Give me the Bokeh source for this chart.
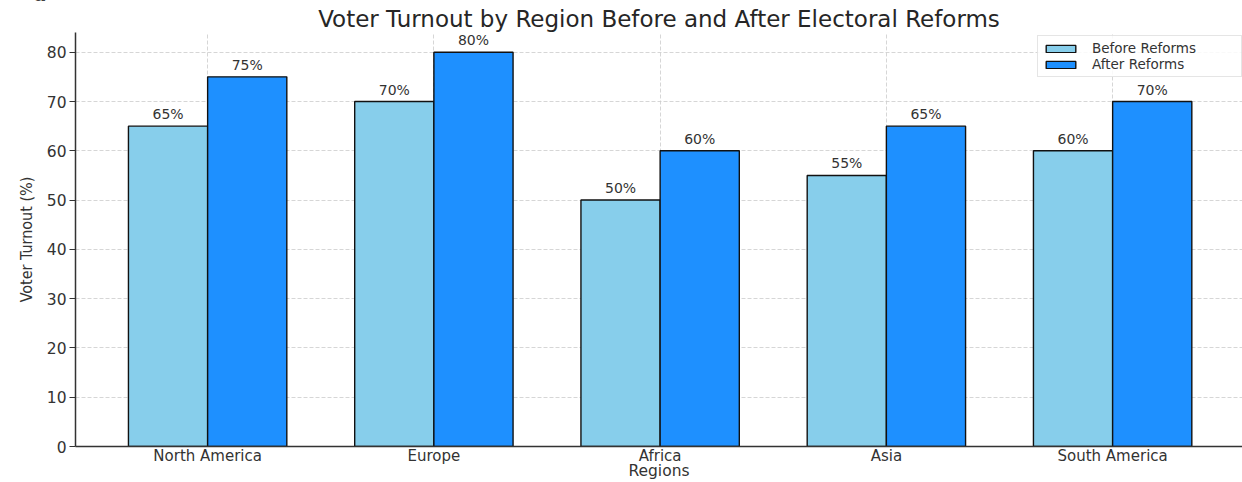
from bokeh.plotting import figure
from bokeh.layouts import column
from bokeh.models import (ColumnDataSource, FixedTicker, Legend, LegendItem,
                          LabelSet, Div)
from bokeh.core.properties import value
from bokeh.embed import file_html
from bokeh.resources import INLINE

# Turnout data (%)
regions = ["North America", "Europe", "Africa", "Asia", "South America"]
before_reforms = [65, 70, 50, 55, 60]
after_reforms = [75, 80, 60, 65, 70]
y_ticks = [0, 10, 20, 30, 40, 50, 60, 70, 80]

bar_w = 0.35
idx = list(range(len(regions)))

src_before = ColumnDataSource(dict(
    x=[i - bar_w / 2 for i in idx], top=before_reforms,
    txt=[f"{v}%" for v in before_reforms]))
src_after = ColumnDataSource(dict(
    x=[i + bar_w / 2 for i in idx], top=after_reforms,
    txt=[f"{v}%" for v in after_reforms]))

FONT = "DejaVu Sans"
TXT = "#333333"

p = figure(width=1242, height=482, output_backend="svg", toolbar_location=None,
           x_range=(-0.584, 4.574), y_range=(0, 84),
           min_border_left=75, min_border_right=0,
           min_border_top=32, min_border_bottom=36)

p.title.text = "Voter Turnout by Region Before and After Electoral Reforms"
p.title.align = "center"
p.title.text_font = FONT
p.title.text_font_size = "23px"
p.title.text_font_style = "normal"
p.title.text_color = "#262626"
p.title.standoff = 2

p.outline_line_color = None

r_before = p.vbar(x="x", top="top", width=bar_w, source=src_before,
                  fill_color="#87CEEB", line_color="#111111", line_width=1.4)
r_after = p.vbar(x="x", top="top", width=bar_w, source=src_after,
                 fill_color="#1E90FF", line_color="#111111", line_width=1.4)

for src in (src_before, src_after):
    p.add_layout(LabelSet(x="x", y="top", text="txt", source=src,
                          text_align="center", text_baseline="alphabetic",
                          y_offset=7, text_font=value(FONT),
                          text_font_size=value("14px"), text_color=TXT))

# Axes
p.xaxis.ticker = FixedTicker(ticks=idx)
p.xaxis.major_label_overrides = {i: r for i, r in enumerate(regions)}
p.xaxis.major_tick_out = 0
p.xaxis.major_tick_in = 0
p.xaxis.minor_tick_line_color = None
p.xaxis.axis_label = "Regions"
p.yaxis.ticker = FixedTicker(ticks=y_ticks)
p.yaxis.major_tick_out = 6
p.yaxis.major_tick_in = 0
p.yaxis.minor_tick_line_color = None
p.yaxis.axis_label = "Voter Turnout (%)"

for ax in (p.xaxis, p.yaxis):
    ax.axis_line_color = "#333333"
    ax.axis_line_width = 1.5
    ax.major_tick_line_color = "#333333"
    ax.major_tick_line_width = 1.2
    ax.major_label_text_font = FONT
    ax.major_label_text_color = TXT
    ax.axis_label_text_font_style = "normal"
    ax.axis_label_text_color = TXT

p.xaxis.major_label_text_font_size = "15px"
p.xaxis.major_label_standoff = 0
p.xaxis.axis_label_standoff = -6
p.xaxis.axis_label_text_font = FONT
p.xaxis.axis_label_text_font_size = "15.5px"
p.yaxis.major_label_text_font_size = "15.5px"
p.yaxis.major_label_standoff = 3
p.yaxis.axis_label_standoff = 8
p.yaxis.axis_label_text_font = "DejaVu Sans Condensed"
p.yaxis.axis_label_text_font_size = "16px"

# Grid
for g in (p.xgrid, p.ygrid):
    g.grid_line_color = "#cccccc"
    g.grid_line_dash = "4 2"
    g.grid_line_width = 0.8
p.xgrid.ticker = FixedTicker(ticks=idx)
p.ygrid.ticker = FixedTicker(ticks=y_ticks)

# Legend
legend = Legend(items=[LegendItem(label="Before Reforms", renderers=[r_before]),
                       LegendItem(label="After Reforms", renderers=[r_after])],
                location=(962, 369), orientation="vertical",
                label_text_font=FONT, label_text_font_size="13.5px",
                label_text_color=TXT, label_height=13, label_width=145,
                label_standoff=13, glyph_width=37, glyph_height=9,
                spacing=0, padding=4, margin=0,
                border_line_color="#cccccc", border_line_width=1,
                background_fill_alpha=0.85)
p.add_layout(legend)

# Tail of the figure caption peeking in at the top edge
caption = Div(
    text=("<div style=\"position:absolute;left:33px;top:-16px;"
          "font-family:'DejaVu Serif';font-weight:bold;font-size:20px;"
          "line-height:20px;color:#000;\">g</div>"),
    width=1242, height=0, margin=0, styles={"overflow": "visible"})

layout = column(caption, p, spacing=0, margin=0)

open("out.html", "w").write(file_html(layout, INLINE))
